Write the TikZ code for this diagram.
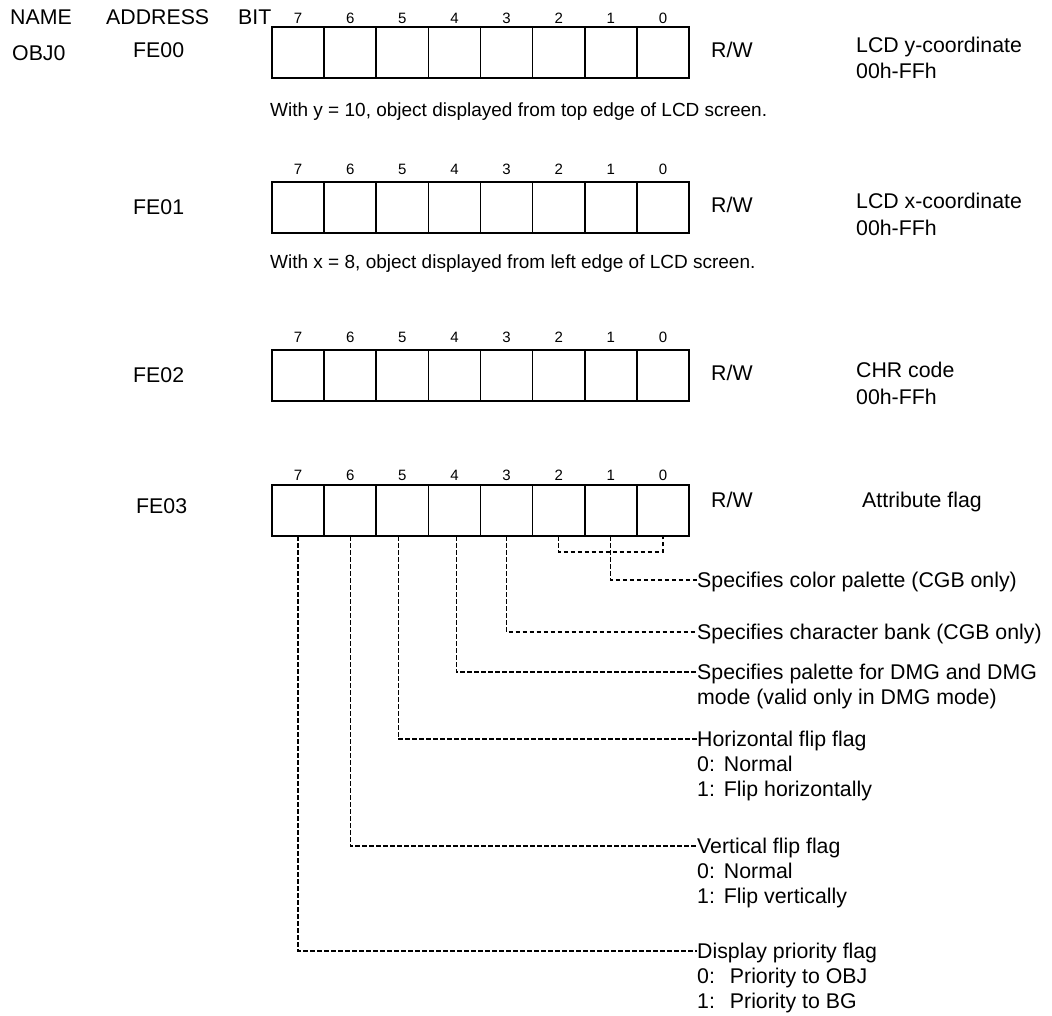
\documentclass[tikz,border=0pt]{standalone}
\usepackage{fontspec}
\setmainfont{Liberation Sans}
\begin{document}
\begin{tikzpicture}[x=1pt,y=-1pt,
  cell/.style={draw,line width=1.7pt,minimum width=52.125pt,minimum height=51pt,inner sep=0pt,outer sep=0pt,anchor=north west},
  txt/.style={inner sep=0pt,anchor=base west,font=\fontsize{21.3}{25}\selectfont},
  smalltxt/.style={inner sep=0pt,anchor=base west,font=\fontsize{19}{23}\selectfont},
  bitnum/.style={inner sep=0pt,anchor=base,font=\fontsize{15}{18}\selectfont},
  dl/.style={line width=1.2pt,dash pattern=on 4.5pt off 2.5pt}]
\useasboundingbox (0,0) rectangle (1052,1016);
\newcommand\register[3]{%
  \foreach \b [count=\i from 0] in {7,6,5,4,3,2,1,0} {
    \node[cell] (#1b\b) at ({272+52.125*\i},#2) {};
    \node[bitnum] (#1n\b) at ({272+52.125*\i+26.06},#3) {\b};
  }}
\register{ra}{27}{23.5}
\register{rb}{182}{174.5}
\register{rc}{350}{342.5}
\register{rd}{485}{480.5}
% headers
\node[txt] (hname) at (10,24.5) {NAME};
\node[txt] (haddr) at (106,24.5) {ADDRESS};
\node[txt] (hbit) at (238,24.5) {BIT};
\node[txt] (obj) at (12,60.5) {OBJ0};
% addresses
\node[txt] (aa) at (133,57.5) {FE00};
\node[txt] (ab) at (133,214.5) {FE01};
\node[txt] (ac) at (133,382.5) {FE02};
\node[txt] (ad) at (136,513.5) {FE03};
% access
\node[txt] (wa) at (711,57.5) {R/W};
\node[txt] (wb) at (711,212.5) {R/W};
\node[txt] (wc) at (711,380.5) {R/W};
\node[txt] (wd) at (711,507.5) {R/W};
% descriptions
\node[txt] (ea1) at (856,52.5) {LCD y-coordinate};
\node[txt] (ea2) at (856,78.5) {00h-FFh};
\node[txt] (eb1) at (856,208.5) {LCD x-coordinate};
\node[txt] (eb2) at (856,235.5) {00h-FFh};
\node[txt] (ec1) at (856,377.5) {CHR code};
\node[txt] (ec2) at (856,404.5) {00h-FFh};
\node[txt] (ed1) at (862,507.5) {Attribute flag};
% notes
\node[smalltxt] (na) at (270,116.8) {With y = 10, object displayed from top edge of LCD screen.};
\node[smalltxt] (nb) at (270,268.8) {With x = 8, object displayed from left edge of LCD screen.};
% bit descriptions
\node[txt] (d1) at (697,587.5) {Specifies color palette (CGB only)};
\node[txt] (d3) at (697,639.5) {Specifies character bank (CGB only)};
\node[txt] (d4) at (697,679.5) {Specifies palette for DMG and DMG};
\node[txt] (d4b) at (697,704.5) {mode (valid only in DMG mode)};
\node[txt] (d5) at (697,746.5) {Horizontal flip flag};
\node[txt] (d5a) at (697,771.5) {0:\hspace{9pt}Normal};
\node[txt] (d5b) at (697,796.5) {1:\hspace{9pt}Flip horizontally};
\node[txt] (d6) at (697,853.5) {Vertical flip flag};
\node[txt] (d6a) at (697,878.5) {0:\hspace{9pt}Normal};
\node[txt] (d6b) at (697,903.5) {1:\hspace{9pt}Flip vertically};
\node[txt] (d7) at (697,958.5) {Display priority flag};
\node[txt] (d7a) at (697,983.5) {0:\hspace{15pt}Priority to OBJ};
\node[txt] (d7b) at (697,1008.5) {1:\hspace{15pt}Priority to BG};
% connectors
\draw[dl] (rdb2.south) -- ++(0,16) -| (rdb0.south);
\draw[dl] (rdb1.south) |- ([yshift=7.5pt]d1.base west);
\draw[dl] (rdb3.south) |- ([yshift=7.5pt]d3.base west);
\draw[dl] ([xshift=2pt]rdb4.south) |- ([yshift=7.5pt]d4.base west);
\draw[dl] ([xshift=-4pt]rdb5.south) |- ([yshift=7.5pt]d5.base west);
\draw[dl] (rdb6.south) |- ([yshift=7.5pt]d6.base west);
\draw[dl] (rdb7.south) |- ([yshift=7.5pt]d7.base west);
\end{tikzpicture}
\end{document}
